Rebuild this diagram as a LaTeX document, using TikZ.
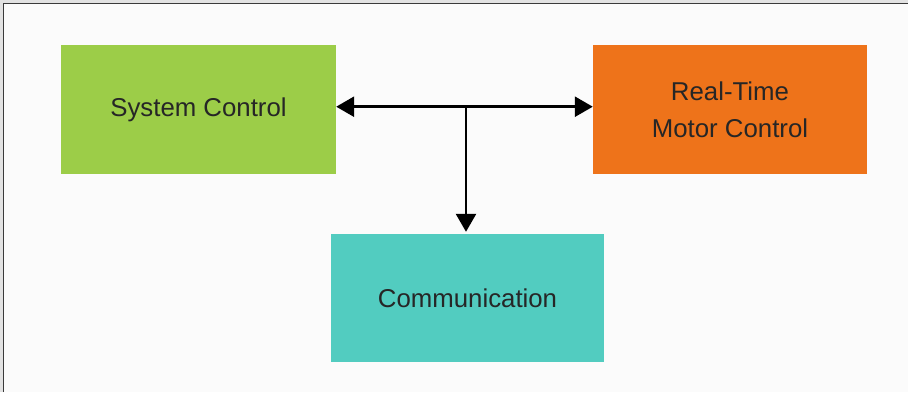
\documentclass[tikz,border=0pt]{standalone}
\usepackage{fontspec}
\setmainfont{Liberation Sans}
\usetikzlibrary{arrows.meta,calc}
\definecolor{bgout}{HTML}{E2E2E2}
\definecolor{bgin}{HTML}{FBFBFB}
\definecolor{framec}{HTML}{3A3A3A}
\definecolor{greenc}{HTML}{9CCD48}
\definecolor{orangec}{HTML}{EE731A}
\definecolor{tealc}{HTML}{52CCC0}
\definecolor{txt}{HTML}{262626}
\tikzset{
  x=1pt, y=-1pt,
  blk/.style={draw=none, minimum width=#1, minimum height=129pt, inner sep=0pt,
    text=txt, align=center, font=\fontsize{25.8}{37}\selectfont},
  blk/.default=275pt,
  arr/.style={draw=black, line width=2.6pt, -{Triangle[length=18pt,width=20pt]}}
}
\begin{document}
\begin{tikzpicture}
\useasboundingbox (0,0) rectangle (908,392);
\fill[bgout] (0,0) rectangle (908,392);
\fill[bgin] (3.5,3.5) rectangle (908,392);
\draw[framec, line width=1.4pt] (3.5,392) -- (3.5,3.5) -- (908,3.5);
\node[blk, fill=greenc] (sys) at (198.5,109.5) {System Control};
\node[blk=274pt, fill=orangec] (rt) at (730,109.5) {Real-Time\\Motor Control};
\node[blk=273pt, minimum height=128pt, fill=tealc] (com) at (467.5,298) {Communication};
\coordinate (j) at (466,106.7);
\draw[arr] (j) -- (j -| sys.east);
\draw[arr] (j) -- (j -| rt.west);
\draw[arr, shorten >=2pt] (j) -- (j |- com.north);
\end{tikzpicture}
\end{document}
